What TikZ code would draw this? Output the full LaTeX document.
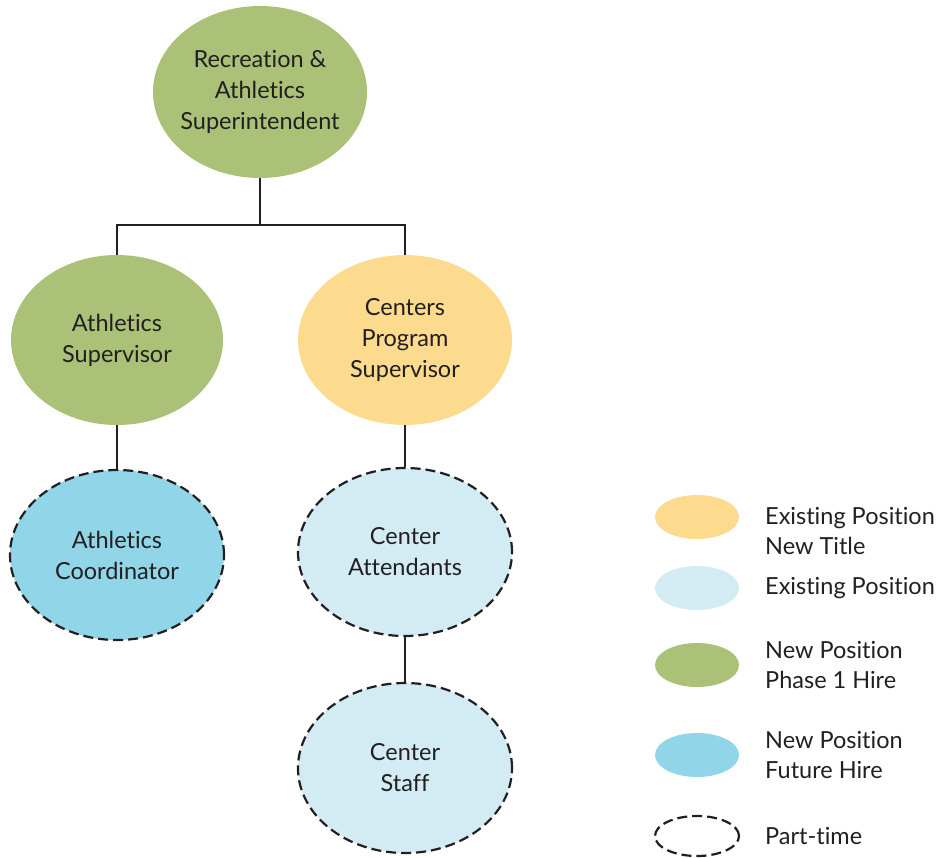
\documentclass[tikz,border=0pt]{standalone}
\usepackage{fontspec}
\setmainfont{Lato}[Ligatures=NoCommon]
\usetikzlibrary{shapes.geometric}
\definecolor{cgreen}{HTML}{ABC178}
\definecolor{cyellow}{HTML}{FCDB8F}
\definecolor{clight}{HTML}{D3ECF4}
\definecolor{cblue}{HTML}{90D5E8}
\definecolor{ctext}{HTML}{231F20}
\begin{document}
\begin{tikzpicture}[x=1pt,y=-1pt,
  posbox/.style={ellipse,inner sep=0pt,minimum width=214pt,minimum height=170pt,align=center,text=ctext,
    font=\fontsize{23.5}{31}\selectfont},
  parttime/.style={draw=ctext,line width=2.2pt,dash pattern=on 10pt off 5pt},
  conn/.style={draw=ctext,line width=2pt},
  legbox/.style={ellipse,inner sep=0pt,minimum width=84pt,minimum height=44pt},
  legtext/.style={anchor=west,align=left,text=ctext,inner sep=0pt,font=\fontsize{23.5}{30}\selectfont}]
\useasboundingbox (0,0) rectangle (939,857);
\node[posbox,fill=cgreen,minimum height=172pt,inner xsep=-8pt] (top) at (260,92) {Recreation \&\\Athletics\\Superintendent};
\node[posbox,fill=cgreen,minimum width=212pt] (as) at (117,340) {Athletics\\Supervisor};
\node[posbox,fill=cyellow] (cps) at (405,340) {Centers\\Program\\Supervisor};
\node[posbox,fill=cblue,parttime] (ac) at (117,555) {Athletics\\Coordinator};
\node[posbox,fill=clight,parttime,minimum height=168pt] (ca) at (405,552) {Center\\Attendants};
\node[posbox,fill=clight,parttime] (cs) at (405,768) {Center\\Staff};
\coordinate (j) at (260,225);
\draw[conn] (top.south) -- (j);
\draw[conn] (as.north) |- (j) -| (cps.north);
\draw[conn] (as.south) -- (ac.north);
\draw[conn] (cps.south) -- (ca.north);
\draw[conn] (ca.south) -- (cs.north);
% legend
\node[legbox,fill=cyellow] (l1) at (697,517) {};
\node[legtext] (t1) at (765,531) {Existing Position\\New Title};
\node[legbox,fill=clight] (l2) at (697,588) {};
\node[legtext] (t2) at (765,588) {Existing Position};
\node[legbox,fill=cgreen] (l3) at (697,665) {};
\node[legtext] (t3) at (765,665) {New Position\\Phase 1 Hire};
\node[legbox,fill=cblue] (l4) at (697,755) {};
\node[legtext] (t4) at (765,755) {New Position\\Future Hire};
\node[legbox,parttime,minimum width=84pt,minimum height=40pt] (l5) at (697,836) {};
\node[legtext] (t5) at (765,836) {Part-time};
\end{tikzpicture}
\end{document}
